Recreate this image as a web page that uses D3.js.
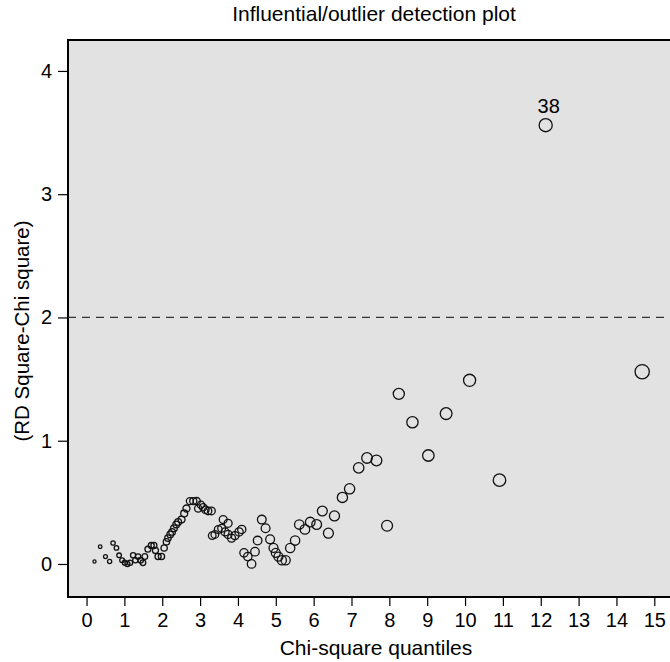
<!DOCTYPE html>
<html>
<head>
<meta charset="utf-8">
<script src="https://cdn.jsdelivr.net/npm/d3@7"></script>
<style>
  body { margin: 0; background: #fff; }
  svg { display: block; font-family: "Liberation Sans", Arial, sans-serif; }
</style>
</head>
<body>
<svg id="chart" width="670" height="662"></svg>
<script>
// Chi-square quantile (x) vs RD square minus chi-square (y)
const quantiles = [
  0.21, 0.36, 0.50, 0.61, 0.70, 0.79, 0.86, 0.94, 1.01, 1.08,
  1.15, 1.23, 1.29, 1.36, 1.43, 1.49, 1.54, 1.62, 1.71, 1.78,
  1.82, 1.89, 1.98, 2.05, 2.11, 2.15, 2.21, 2.26, 2.31, 2.37,
  2.42, 2.51, 2.58, 2.64, 2.73, 2.82, 2.91, 2.95, 3.02, 3.08,
  3.14, 3.21, 3.30, 3.32, 3.39, 3.48, 3.57, 3.61, 3.66, 3.74,
  3.74, 3.83, 3.92, 4.03, 4.10, 4.16, 4.26, 4.36, 4.45, 4.52,
  4.63, 4.73, 4.85, 4.94, 5.00, 5.07, 5.16, 5.26, 5.38, 5.51,
  5.62, 5.77, 5.91, 6.08, 6.23, 6.39, 6.55, 6.76, 6.95, 7.19,
  7.41, 7.66, 7.94, 8.25, 8.61, 9.03, 9.50, 10.12, 10.91, 12.13,
  14.68
];
const rdDiff = [
  0.02, 0.14, 0.06, 0.02, 0.17, 0.13, 0.07, 0.03, 0.01, 0.00,
  0.01, 0.07, 0.03, 0.06, 0.03, 0.01, 0.06, 0.12, 0.15, 0.15,
  0.11, 0.06, 0.06, 0.13, 0.18, 0.21, 0.24, 0.26, 0.29, 0.32,
  0.34, 0.36, 0.41, 0.45, 0.51, 0.51, 0.51, 0.45, 0.48, 0.46,
  0.44, 0.43, 0.43, 0.23, 0.24, 0.28, 0.29, 0.36, 0.26, 0.33,
  0.24, 0.21, 0.23, 0.26, 0.28, 0.09, 0.06, 0.00, 0.10, 0.19,
  0.36, 0.29, 0.20, 0.13, 0.09, 0.06, 0.03, 0.03, 0.13, 0.19,
  0.32, 0.28, 0.34, 0.32, 0.43, 0.25, 0.39, 0.54, 0.61, 0.78,
  0.86, 0.84, 0.31, 1.38, 1.15, 0.88, 1.22, 1.49, 0.68, 3.56,
  1.56
];
const labelled = [{ index: 89, text: '38' }];
const cutoff = 2;
const xTicks = d3.range(0, 16);
const yTicks = [0, 1, 2, 3, 4];

const points = quantiles.map((q, i) => ({ x: q, y: rdDiff[i] }));

const svg = d3.select('#chart');
const plot = { left: 68, top: 40, right: 690, bottom: 597 };
const fontFamily = '"Liberation Sans", Arial, sans-serif';

// 37.85 px per unit, x = 0 sits at 86.5 px
const x = d3.scaleLinear()
  .domain([-0.49, (plot.right - plot.left) / 37.85 - 0.49])
  .range([plot.left, plot.right]);
const y = d3.scaleLinear().domain([-0.268, 4.251]).range([plot.bottom, plot.top]);
const r = d3.scaleSqrt().domain([0, 15]).range([0.8, 7.2]);

// Panel (right edge runs past the window, as in the original crop)
svg.append('rect')
  .attr('x', plot.left).attr('y', plot.top)
  .attr('width', plot.right - plot.left).attr('height', plot.bottom - plot.top)
  .attr('fill', '#e2e2e2').attr('stroke', '#000').attr('stroke-width', 2);

// Cutoff line
svg.append('line')
  .attr('x1', plot.left).attr('x2', plot.right)
  .attr('y1', y(cutoff)).attr('y2', y(cutoff))
  .attr('stroke', '#333').attr('stroke-width', 1.2)
  .attr('stroke-dasharray', '8,6');

// Axes
svg.append('g')
  .attr('transform', 'translate(0,' + (plot.bottom + 1) + ')')
  .call(d3.axisBottom(x).tickValues(xTicks).tickSize(8).tickPadding(7).tickSizeOuter(0))
  .call(ax => ax.select('.domain').remove())
  .call(ax => ax.selectAll('line').attr('stroke', '#000').attr('stroke-width', 1.2))
  .call(ax => ax.selectAll('text').attr('font-size', 20).attr('fill', '#000')
    .attr('font-family', fontFamily));

svg.append('g')
  .attr('transform', 'translate(' + (plot.left - 1) + ',0)')
  .call(d3.axisLeft(y).tickValues(yTicks).tickFormat(d3.format('d'))
    .tickSize(9).tickPadding(6).tickSizeOuter(0))
  .call(ax => ax.select('.domain').remove())
  .call(ax => ax.selectAll('line').attr('stroke', '#000').attr('stroke-width', 1.2))
  .call(ax => ax.selectAll('text').attr('font-size', 20).attr('fill', '#000')
    .attr('font-family', fontFamily));

// Points
svg.append('g').selectAll('circle').data(points).join('circle')
  .attr('cx', d => x(d.x)).attr('cy', d => y(d.y)).attr('r', d => r(d.x))
  .attr('fill', 'none').attr('stroke', '#111').attr('stroke-width', 1.3);

// Point labels
svg.append('g').selectAll('text').data(labelled).join('text')
  .attr('x', d => x(points[d.index].x) + 3)
  .attr('y', d => y(points[d.index].y) - 12)
  .attr('text-anchor', 'middle').attr('font-size', 20).attr('fill', '#000')
  .text(d => d.text);

// Titles
svg.append('text')
  .attr('x', 374).attr('y', 21)
  .attr('text-anchor', 'middle').attr('font-size', 21).attr('fill', '#000')
  .text('Influential/outlier detection plot');
svg.append('text')
  .attr('x', 376).attr('y', 655)
  .attr('text-anchor', 'middle').attr('font-size', 21).attr('fill', '#000')
  .text('Chi-square quantiles');
svg.append('text')
  .attr('transform', 'translate(29,' + y(1.89) + ') rotate(-90)')
  .attr('text-anchor', 'middle').attr('font-size', 20.5).attr('fill', '#000')
  .text('(RD Square-Chi square)');
</script>
</body>
</html>
